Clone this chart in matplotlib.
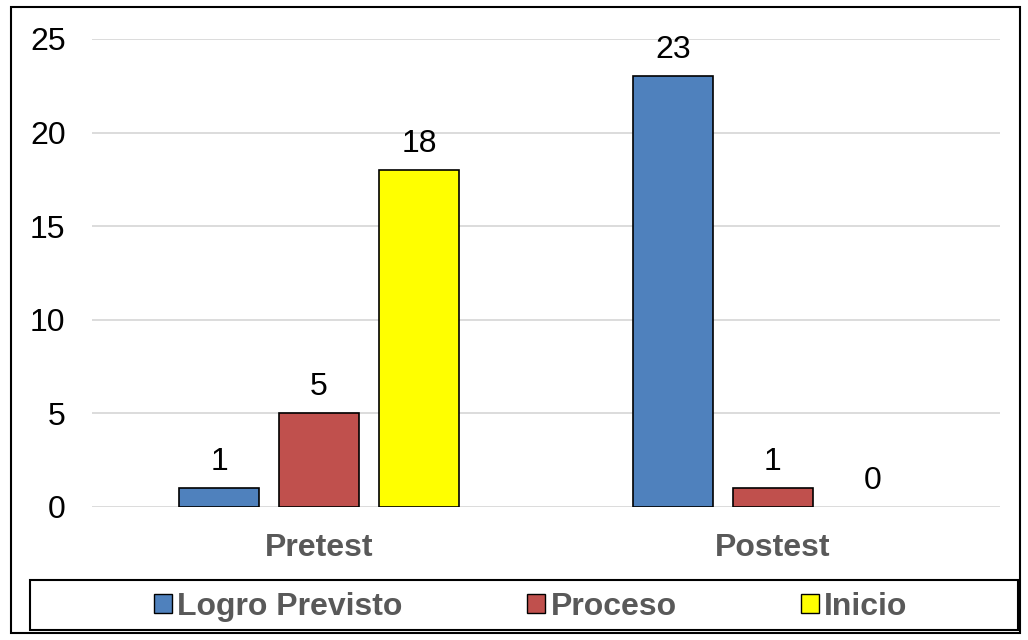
import numpy as np
import matplotlib
matplotlib.use("Agg")
import matplotlib.pyplot as plt
from matplotlib.patches import Patch, Rectangle

plt.rcParams['font.family'] = ['Liberation Sans', 'DejaVu Sans']

categories = ['Pretest', 'Postest']
series_names = ['Logro Previsto', 'Proceso', 'Inicio']
values = {
    'Logro Previsto': [1, 23],
    'Proceso': [5, 1],
    'Inicio': [18, 0],
}
colors = ['#4F81BD', '#C0504D', '#FFFF00']

fig = plt.figure(figsize=(10.28, 6.4), dpi=100)
ax = fig.add_axes([92 / 1028, 133 / 640, 908 / 1028, 468 / 640])

x = np.arange(len(categories))
width = 0.176
step = 0.22
for i, name in enumerate(series_names):
    pos = x + (i - 1) * step
    lw = [1.2 if v > 0 else 0 for v in values[name]]
    bars = ax.bar(pos, values[name], width, color=colors[i],
                  edgecolor='black', linewidth=lw, zorder=3)
    for b, v in zip(bars, values[name]):
        ax.annotate(str(v), (b.get_x() + b.get_width() / 2, v),
                    xytext=(0, 8), textcoords='offset points',
                    ha='center', va='bottom', fontsize=23, color='black')

ax.set_xlim(-0.5, 1.5)
ax.set_ylim(0, 25)
ax.set_yticks(range(0, 26, 5))
ax.yaxis.grid(True, color='#d9d9d9', linewidth=1.3, zorder=0)
for s in ax.spines.values():
    s.set_visible(False)
ax.tick_params(axis='y', length=0, labelsize=23, pad=19, labelcolor='black')
ax.tick_params(axis='x', length=0, labelsize=23, pad=19, labelcolor='#595959')
ax.set_xticks(x)
ax.set_xticklabels(categories, fontweight='bold')

# outer chart border
fig.patches.append(Rectangle((11 / 1028, 7 / 640), 1009 / 1028, 626 / 640,
                             transform=fig.transFigure, fill=False,
                             edgecolor='black', linewidth=1.5))
# legend box
fig.patches.append(Rectangle((30 / 1028, 10 / 640), 988 / 1028, 50 / 640,
                             transform=fig.transFigure, fill=False,
                             edgecolor='black', linewidth=1.5))

handles = [Patch(facecolor=c, edgecolor='black', linewidth=1) for c in colors]
leg = fig.legend(handles, series_names, loc='center', ncol=3,
                 bbox_to_anchor=(531 / 1028, 33 / 640), frameon=False,
                 handlelength=0.56, handleheight=0.56, handletextpad=0.16,
                 columnspacing=3.9, fontsize=23)
for t in leg.get_texts():
    t.set_color('#595959')
    t.set_fontweight('bold')

fig.savefig('out.png', dpi=100)
